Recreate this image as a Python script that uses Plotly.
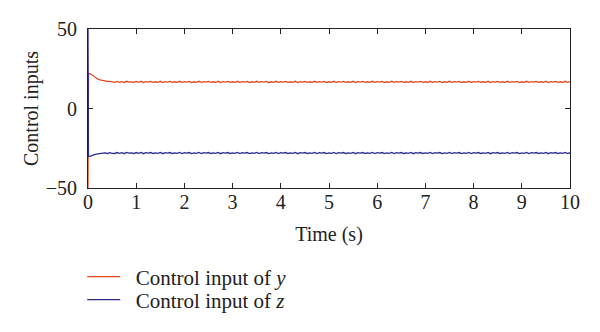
import numpy as np
import plotly.graph_objects as go

# Sample times (s): initial jump, then every 0.05 s
time_s = [0.0, 0.01] + [round(0.05 * k, 2) for k in range(1, 201)]

# Control input of y: jump at start, decay to a steady value with chattering
u_y = [
    -50.0, 22.0, 21.8, 20.6, 19.5, 18.6, 18.0, 17.6, 17.3, 17.1, 17.0, 16.9,
    16.4, 17.0, 16.5, 16.9, 16.3, 17.1, 16.6, 16.8, 16.4, 17.0,
    16.5, 17.1, 16.3, 16.9, 16.6, 17.0, 16.4, 16.8, 16.5, 17.1,
    16.3, 16.9, 16.6, 17.0, 16.4, 16.8, 16.5, 17.1, 16.4, 16.9,
    16.6, 17.0, 16.3, 16.8, 16.5, 17.1, 16.4, 16.9, 16.6, 17.0,
    16.4, 16.8, 16.5, 17.1, 16.3, 16.9, 16.6, 17.0, 16.4, 16.8,
    16.5, 17.1, 16.4, 16.9, 16.6, 17.0, 16.3, 16.8, 16.5, 17.1,
    16.4, 16.9, 16.6, 17.0, 16.3, 16.8, 16.5, 17.1, 16.4, 16.9,
    16.6, 17.0, 16.4, 16.8, 16.5, 17.1, 16.3, 16.9, 16.6, 17.0,
    16.4, 16.8, 16.5, 17.1, 16.4, 16.9, 16.6, 17.0, 16.3, 16.8,
    16.5, 17.1, 16.4, 16.9, 16.6, 17.0, 16.4, 16.8, 16.5, 17.1,
    16.3, 16.9, 16.6, 17.0, 16.4, 16.8, 16.5, 17.1, 16.4, 16.9,
    16.6, 17.0, 16.3, 16.8, 16.5, 17.1, 16.4, 16.9, 16.6, 17.0,
    16.4, 16.8, 16.5, 17.1, 16.3, 16.9, 16.6, 17.0, 16.4, 16.8,
    16.5, 17.1, 16.4, 16.9, 16.6, 17.0, 16.3, 16.8, 16.5, 17.1,
    16.4, 16.9, 16.6, 17.0, 16.3, 16.8, 16.5, 17.1, 16.4, 16.9,
    16.6, 17.0, 16.4, 16.8, 16.5, 17.1, 16.3, 16.9, 16.6, 17.0,
    16.4, 16.8, 16.5, 17.1, 16.4, 16.9, 16.6, 17.0, 16.3, 16.8,
    16.5, 17.1, 16.4, 16.9, 16.6, 17.0, 16.4, 16.8, 16.5, 17.1,
    16.3, 16.9, 16.6, 17.0, 16.4, 16.8, 16.5, 17.1, 16.4, 16.9,
]

# Control input of z: jump at start, settle near -28 with chattering
u_z = [
    50.0, -30.2, -30.0, -29.3, -28.8, -28.5, -28.3, -28.2, -27.9, -28.3, -27.8, -28.2,
    -28.3, -27.7, -28.2, -27.8, -28.4, -27.6, -28.1, -27.9, -28.3, -27.7,
    -28.2, -27.6, -28.4, -27.8, -28.1, -27.7, -28.3, -27.9, -28.2, -27.6,
    -28.4, -27.8, -28.1, -27.7, -28.3, -27.9, -28.2, -27.6, -28.3, -27.8,
    -28.1, -27.7, -28.4, -27.9, -28.2, -27.6, -28.3, -27.8, -28.1, -27.7,
    -28.3, -27.9, -28.2, -27.6, -28.4, -27.8, -28.1, -27.7, -28.3, -27.9,
    -28.2, -27.6, -28.3, -27.8, -28.1, -27.7, -28.4, -27.9, -28.2, -27.6,
    -28.3, -27.8, -28.1, -27.7, -28.4, -27.9, -28.2, -27.6, -28.3, -27.8,
    -28.1, -27.7, -28.3, -27.9, -28.2, -27.6, -28.4, -27.8, -28.1, -27.7,
    -28.3, -27.9, -28.2, -27.6, -28.3, -27.8, -28.1, -27.7, -28.4, -27.9,
    -28.2, -27.6, -28.3, -27.8, -28.1, -27.7, -28.3, -27.9, -28.2, -27.6,
    -28.4, -27.8, -28.1, -27.7, -28.3, -27.9, -28.2, -27.6, -28.3, -27.8,
    -28.1, -27.7, -28.4, -27.9, -28.2, -27.6, -28.3, -27.8, -28.1, -27.7,
    -28.3, -27.9, -28.2, -27.6, -28.4, -27.8, -28.1, -27.7, -28.3, -27.9,
    -28.2, -27.6, -28.3, -27.8, -28.1, -27.7, -28.4, -27.9, -28.2, -27.6,
    -28.3, -27.8, -28.1, -27.7, -28.4, -27.9, -28.2, -27.6, -28.3, -27.8,
    -28.1, -27.7, -28.3, -27.9, -28.2, -27.6, -28.4, -27.8, -28.1, -27.7,
    -28.3, -27.9, -28.2, -27.6, -28.3, -27.8, -28.1, -27.7, -28.4, -27.9,
    -28.2, -27.6, -28.3, -27.8, -28.1, -27.7, -28.3, -27.9, -28.2, -27.6,
    -28.4, -27.8, -28.1, -27.7, -28.3, -27.9, -28.2, -27.6, -28.3, -27.8,
]

x_ticks = list(range(0, 11))
y_ticks = [-50, 0, 50]

RED = "#E2481C"
BLUE = "#2D2A8E"
FONT = "Liberation Serif"
SIZE = 20

fig = go.Figure()
fig.add_trace(go.Scatter(
    x=time_s, y=u_y, mode="lines", name="\u00a0\u00a0Control input of <i>y</i>",
    line=dict(color=RED, width=1.3), legend="legend",
))
fig.add_trace(go.Scatter(
    x=time_s, y=u_z, mode="lines", name="\u00a0\u00a0Control input of <i>z</i>",
    line=dict(color=BLUE, width=1.3), legend="legend2",
))

axis_common = dict(
    showline=True, linecolor="#222222", linewidth=1, mirror="ticks",
    ticks="inside", ticklen=5, tickcolor="#222222",
    showgrid=False, zeroline=False,
    tickfont=dict(family=FONT, size=SIZE, color="#222222"),
    title_font=dict(family=FONT, size=SIZE, color="#222222"),
)

fig.update_xaxes(
    range=[0, 10], tickvals=x_ticks, title_text="Time (s)", title_standoff=14,
    ticklabelstandoff=-4, **axis_common,
)
fig.update_yaxes(
    range=[-50, 50], tickvals=y_ticks, ticktext=["\u221250", "0", "50"],
    title_text="Control inputs", title_standoff=1,
    ticklabelstandoff=6, **axis_common,
)

legend_common = dict(
    x=-0.012, xanchor="left", yanchor="middle",
    font=dict(family=FONT, size=21, color="#222222"),
    bgcolor="rgba(0,0,0,0)", itemwidth=33,
)

fig.update_layout(
    width=600, height=332,
    margin=dict(l=88, r=30, t=29, b=144),
    paper_bgcolor="white", plot_bgcolor="white",
    font=dict(family=FONT, size=SIZE, color="#222222"),
    showlegend=True,
    legend=dict(y=-0.56, **legend_common),
    legend2=dict(y=-0.704, **legend_common),
)

fig.write_html("out.html")
